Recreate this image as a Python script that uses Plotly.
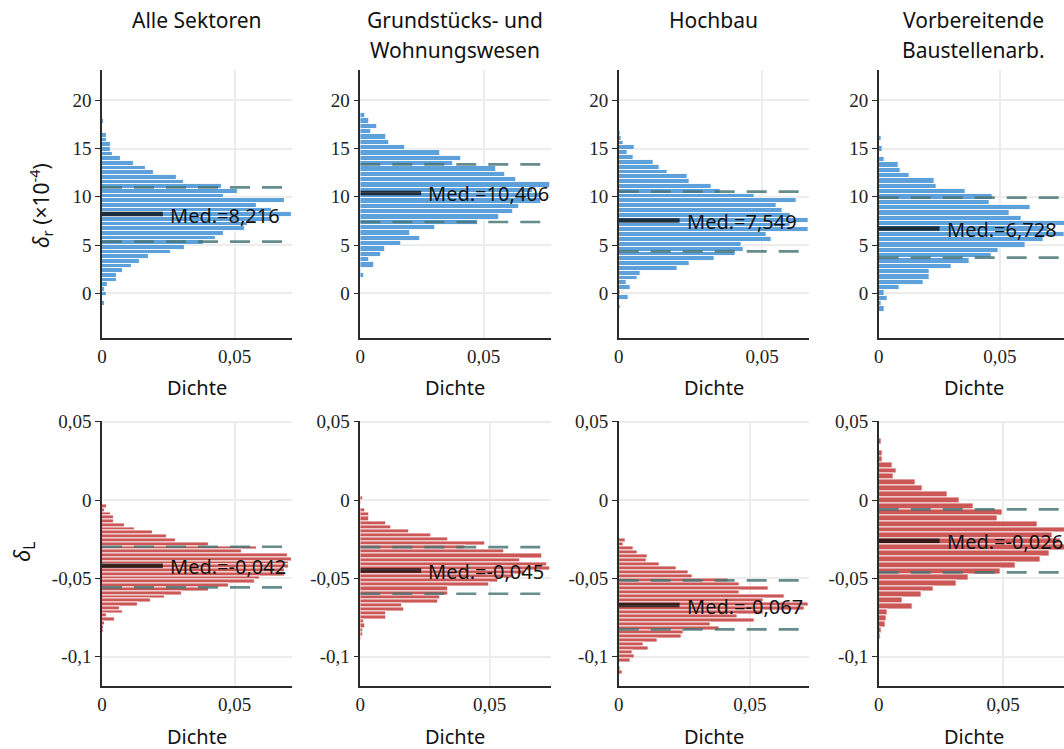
import plotly.graph_objects as go

W, H = 1064, 749

# ---- panel titles -------------------------------------------------------
sector_titles = [["Alle Sektoren"],
                 ["Grundstücks- und", "Wohnungswesen"],
                 ["Hochbau"],
                 ["Vorbereitende", "Baustellenarb."]]

# ---- δr (×10^-4) histograms: centre of the topmost bin, bin width,
#      densities listed from the top bin downwards ----------------------
dr_top_center = [17.82, 18.41, 16.58, 16.61]
dr_bin_width = [0.4836, 0.5527, 0.5, 0.5527]
dr_dens_alle = [0.0006, 0, 0, 0.0018, 0.0018, 0.0033, 0.0033, 0.0043, 0.0073, 0.0122,
                0.0167, 0.0197, 0.0284, 0.0310, 0.0454, 0.0513, 0.0459, 0.0692, 0.0583, 0.0642,
                0.0718, 0.0642, 0.0549, 0.0540, 0.0459, 0.0430, 0.0384, 0.0315, 0.0262, 0.0176,
                0.0142, 0.0112, 0.0081, 0.0056, 0.0056, 0.0022, 0.0012, 0.0018, 0, 0.0012]
dr_dens_grund = [0.0022, 0.0037, 0.0070, 0.0046, 0.0107, 0.0117, 0.0183, 0.0324, 0.0408, 0.0377,
                 0.0553, 0.0588, 0.0633, 0.0771, 0.0700, 0.0734, 0.0734, 0.0644, 0.0618, 0.0564,
                 0.0477, 0.0304, 0.0202, 0.0243, 0.0168, 0.0102, 0.0087, 0.0037, 0.0057, 0.0005,
                 0.0016]
dr_dens_hoch = [0.0007, 0.0012, 0.0016, 0.0057, 0.0031, 0.0051, 0.0122, 0.0142, 0.0172, 0.0242,
                0.0248, 0.0323, 0.0357, 0.0473, 0.0620, 0.0549, 0.0570, 0.0600, 0.0663, 0.0600,
                0.0663, 0.0514, 0.0534, 0.0428, 0.0434, 0.0408, 0.0333, 0.0248, 0.0207, 0.0077,
                0.0066, 0.0027, 0.0042, 0.0006, 0.0036, 0, 0.0006, 0, 0, 0.0002]
dr_dens_vorb = [0.0006, 0.0012, 0.0006, 0.0017, 0.0006, 0.0026, 0.0081, 0.0092, 0.0127, 0.0231,
                0.0241, 0.0357, 0.0471, 0.0456, 0.0627, 0.0541, 0.0591, 0.0785, 0.0700, 0.0766,
                0.0682, 0.0606, 0.0497, 0.0467, 0.0377, 0.0302, 0.0212, 0.0212, 0.0187, 0.0087,
                0.0026, 0.0036, 0.0012, 0.0026]
dr_median = [8.216, 10.406, 7.549, 6.728]
dr_q1 = [5.35, 7.39, 4.35, 3.70]
dr_q3 = [10.98, 13.37, 10.54, 9.91]

# ---- δL histograms ------------------------------------------------------
dl_top_center = [0.0008, 0.00106, -0.0204, 0.0374]
dl_bin_width = [0.00241, 0.002628, 0.00256, 0.003766]
dl_dens_alle = [0.0004, 0, 0.0020, 0.0010, 0.0035, 0.0044, 0.0044, 0.0085, 0.0125, 0.0193,
                0.0244, 0.0279, 0.0403, 0.0586, 0.0527, 0.0702, 0.0718, 0.0704, 0.0704, 0.0692,
                0.0689, 0.0596, 0.0576, 0.0480, 0.0403, 0.0302, 0.0237, 0.0183, 0.0135, 0.0069,
                0.0079, 0.0019, 0.0050, 0.0012, 0.0009, 0.0007]
dl_dens_grund = [0.0013, 0.0005, 0, 0.0021, 0.0036, 0.0036, 0.0102, 0.0121, 0.0191, 0.0273,
                 0.0342, 0.0482, 0.0408, 0.0558, 0.0703, 0.0618, 0.0724, 0.0736, 0.0638, 0.0597,
                 0.0532, 0.0497, 0.0342, 0.0342, 0.0311, 0.0302, 0.0163, 0.0172, 0.0102, 0.0102,
                 0.0017, 0.0021, 0.0012, 0.0012, 0.0005]
dl_dens_hoch = [0.0005, 0, 0.0025, 0.0020, 0.0056, 0.0071, 0.0111, 0.0107, 0.0156, 0.0221,
                0.0266, 0.0281, 0.0420, 0.0462, 0.0571, 0.0462, 0.0631, 0.0551, 0.0725, 0.0710,
                0.0551, 0.0452, 0.0520, 0.0351, 0.0385, 0.0247, 0.0240, 0.0150, 0.0095, 0.0116,
                0.0055, 0.0061, 0.0046, 0, 0.0006, 0.0015]
dl_dens_vorb = [0.0012, 0, 0.0016, 0.0016, 0.0056, 0.0071, 0.0062, 0.0147, 0.0177, 0.0277,
                0.0327, 0.0383, 0.0498, 0.0478, 0.0639, 0.0764, 0.0700, 0.0729, 0.0764, 0.0685,
                0.0650, 0.0550, 0.0489, 0.0363, 0.0312, 0.0222, 0.0173, 0.0097, 0.0137, 0.0036,
                0.0032, 0.0027, 0.0012, 0.0007]
dl_median = [-0.042, -0.045, -0.067, -0.026]
dl_q1 = [-0.0557, -0.0598, -0.0826, -0.0462]
dl_q3 = [-0.0298, -0.0300, -0.0513, -0.0060]

# ---- tick labels -----------------------------------------------------------
x_tickvals = [0, 0.05]
x_ticktext = ["0", "0,05"]
dr_tickvals = [0, 5, 10, 15, 20]
dr_ticktext = ["0", "5", "10", "15", "20"]
dl_tickvals = [-0.1, -0.05, 0, 0.05]
dl_ticktext = ["-0,1", "-0,05", "0", "0,05"]

rows = [
    dict(top=dr_top_center, width=dr_bin_width,
         dens=[dr_dens_alle, dr_dens_grund, dr_dens_hoch, dr_dens_vorb],
         med=dr_median, q1=dr_q1, q3=dr_q3,
         yrange=[-4.63, 23.14], tickvals=dr_tickvals, ticktext=dr_ticktext,
         color="#5ea1da", ypx=(70, 338), xlab_px=387),
    dict(top=dl_top_center, width=dl_bin_width,
         dens=[dl_dens_alle, dl_dens_grund, dl_dens_hoch, dl_dens_vorb],
         med=dl_median, q1=dl_q1, q3=dl_q3,
         yrange=[-0.1187, 0.0508], tickvals=dl_tickvals, ticktext=dl_ticktext,
         color="#cc5757", ypx=(420.5, 686), xlab_px=736),
]

# panel geometry (pixels)
col_left = [102.0, 360.3, 618.7, 878.7]
panel_w = 190.3

SANS = "Noto Sans"
SERIF = "Liberation Serif"
AXIS_COL = "#2b2b2b"
GRID_COL = "#ececec"
QUART_COL = "rgba(70,115,115,0.82)"
MED_COL = "rgba(0,0,0,0.72)"

fig = go.Figure()
annotations = []
layout_axes = {}

for r, row in enumerate(rows):
    for c in range(4):
        idx = r * 4 + c + 1
        xa = "x" if idx == 1 else f"x{idx}"
        ya = "y" if idx == 1 else f"y{idx}"
        dens = row["dens"][c]
        n = len(dens)
        centers = [row["top"][c] - k * row["width"][c] for k in range(n)]
        xmax = max(dens)

        # histogram bars
        fig.add_trace(go.Bar(
            x=dens, y=centers, orientation="h", width=row["width"][c],
            marker=dict(color=row["color"], line=dict(color="rgba(255,255,255,0.85)", width=1.1)),
            xaxis=xa, yaxis=ya, showlegend=False, hoverinfo="skip"))

        # quartile lines
        for q in (row["q1"][c], row["q3"][c]):
            fig.add_trace(go.Scatter(
                x=[0, xmax], y=[q, q], mode="lines",
                line=dict(color=QUART_COL, width=2.7, dash="20px,12px"),
                xaxis=xa, yaxis=ya, showlegend=False, hoverinfo="skip"))

        # median marker
        med_len = 0.32 * xmax
        m = row["med"][c]
        fig.add_trace(go.Scatter(
            x=[0, med_len], y=[m, m], mode="lines",
            line=dict(color=MED_COL, width=4.5),
            xaxis=xa, yaxis=ya, showlegend=False, hoverinfo="skip"))
        annotations.append(dict(
            x=med_len, y=m, xref=xa, yref=ya, xanchor="left", yanchor="middle",
            xshift=5, yshift=-1, showarrow=False,
            text="Med.=" + f"{m:.3f}".replace(".", ","),
            font=dict(family=SANS, size=20, color="#111")))

        # axes domains
        left = col_left[c]
        right_nominal = left + panel_w
        right = min(right_nominal, W)
        vis = (right - left) / panel_w
        y0px, y1px = row["ypx"]
        layout_axes["xaxis" if idx == 1 else f"xaxis{idx}"] = dict(
            domain=[left / W, right / W], anchor=ya,
            range=[0, xmax * vis], automargin=False,
            tickvals=x_tickvals, ticktext=x_ticktext, ticks="",
            showline=True, linecolor=AXIS_COL, linewidth=1.5,
            showgrid=True, gridcolor=GRID_COL, gridwidth=2, zeroline=False,
            tickfont=dict(family=SERIF, size=19, color="#222"))
        layout_axes["yaxis" if idx == 1 else f"yaxis{idx}"] = dict(
            domain=[1 - y1px / H, 1 - y0px / H], anchor=xa,
            range=row["yrange"], automargin=False,
            tickvals=row["tickvals"], ticktext=row["ticktext"],
            ticks="outside", ticklen=5, tickwidth=1, tickcolor=AXIS_COL,
            showline=True, linecolor=AXIS_COL, linewidth=1.5,
            showgrid=True, gridcolor=GRID_COL, gridwidth=2, zeroline=False,
            tickfont=dict(family=SERIF, size=19, color="#222"))

        # x-axis title
        annotations.append(dict(
            x=(left + panel_w / 2) / W, y=1 - row["xlab_px"] / H, xref="paper", yref="paper",
            xanchor="center", yanchor="middle", showarrow=False, text="Dichte",
            font=dict(family=SANS, size=20, color="#111")))

# column titles
for c, lines in enumerate(sector_titles):
    cx = (col_left[c] + panel_w / 2) / W
    for i, line in enumerate(lines):
        annotations.append(dict(
            x=cx, y=1 - (20 + 30 * i) / H, xref="paper", yref="paper",
            xanchor="center", yanchor="middle", showarrow=False, text=line,
            font=dict(family=SANS, size=21, color="#111")))

# row labels
annotations.append(dict(
    x=41 / W, y=1 - 206 / H, xref="paper", yref="paper", textangle=-90,
    xanchor="center", yanchor="middle", showarrow=False,
    text="<i>δ</i><sub>r</sub> (×10<sup>-4</sup>)",
    font=dict(family=SANS, size=21, color="#111")))
annotations.append(dict(
    x=23 / W, y=1 - 552 / H, xref="paper", yref="paper", textangle=-90,
    xanchor="center", yanchor="middle", showarrow=False,
    text="<i>δ</i><sub>L</sub>",
    font=dict(family=SANS, size=22, color="#111")))

fig.update_layout(
    width=W, height=H,
    margin=dict(l=0, r=0, t=0, b=0, pad=0, autoexpand=False),
    paper_bgcolor="white", plot_bgcolor="white",
    bargap=0, barmode="overlay",
    annotations=annotations,
    **layout_axes)

fig.write_html("out.html")
